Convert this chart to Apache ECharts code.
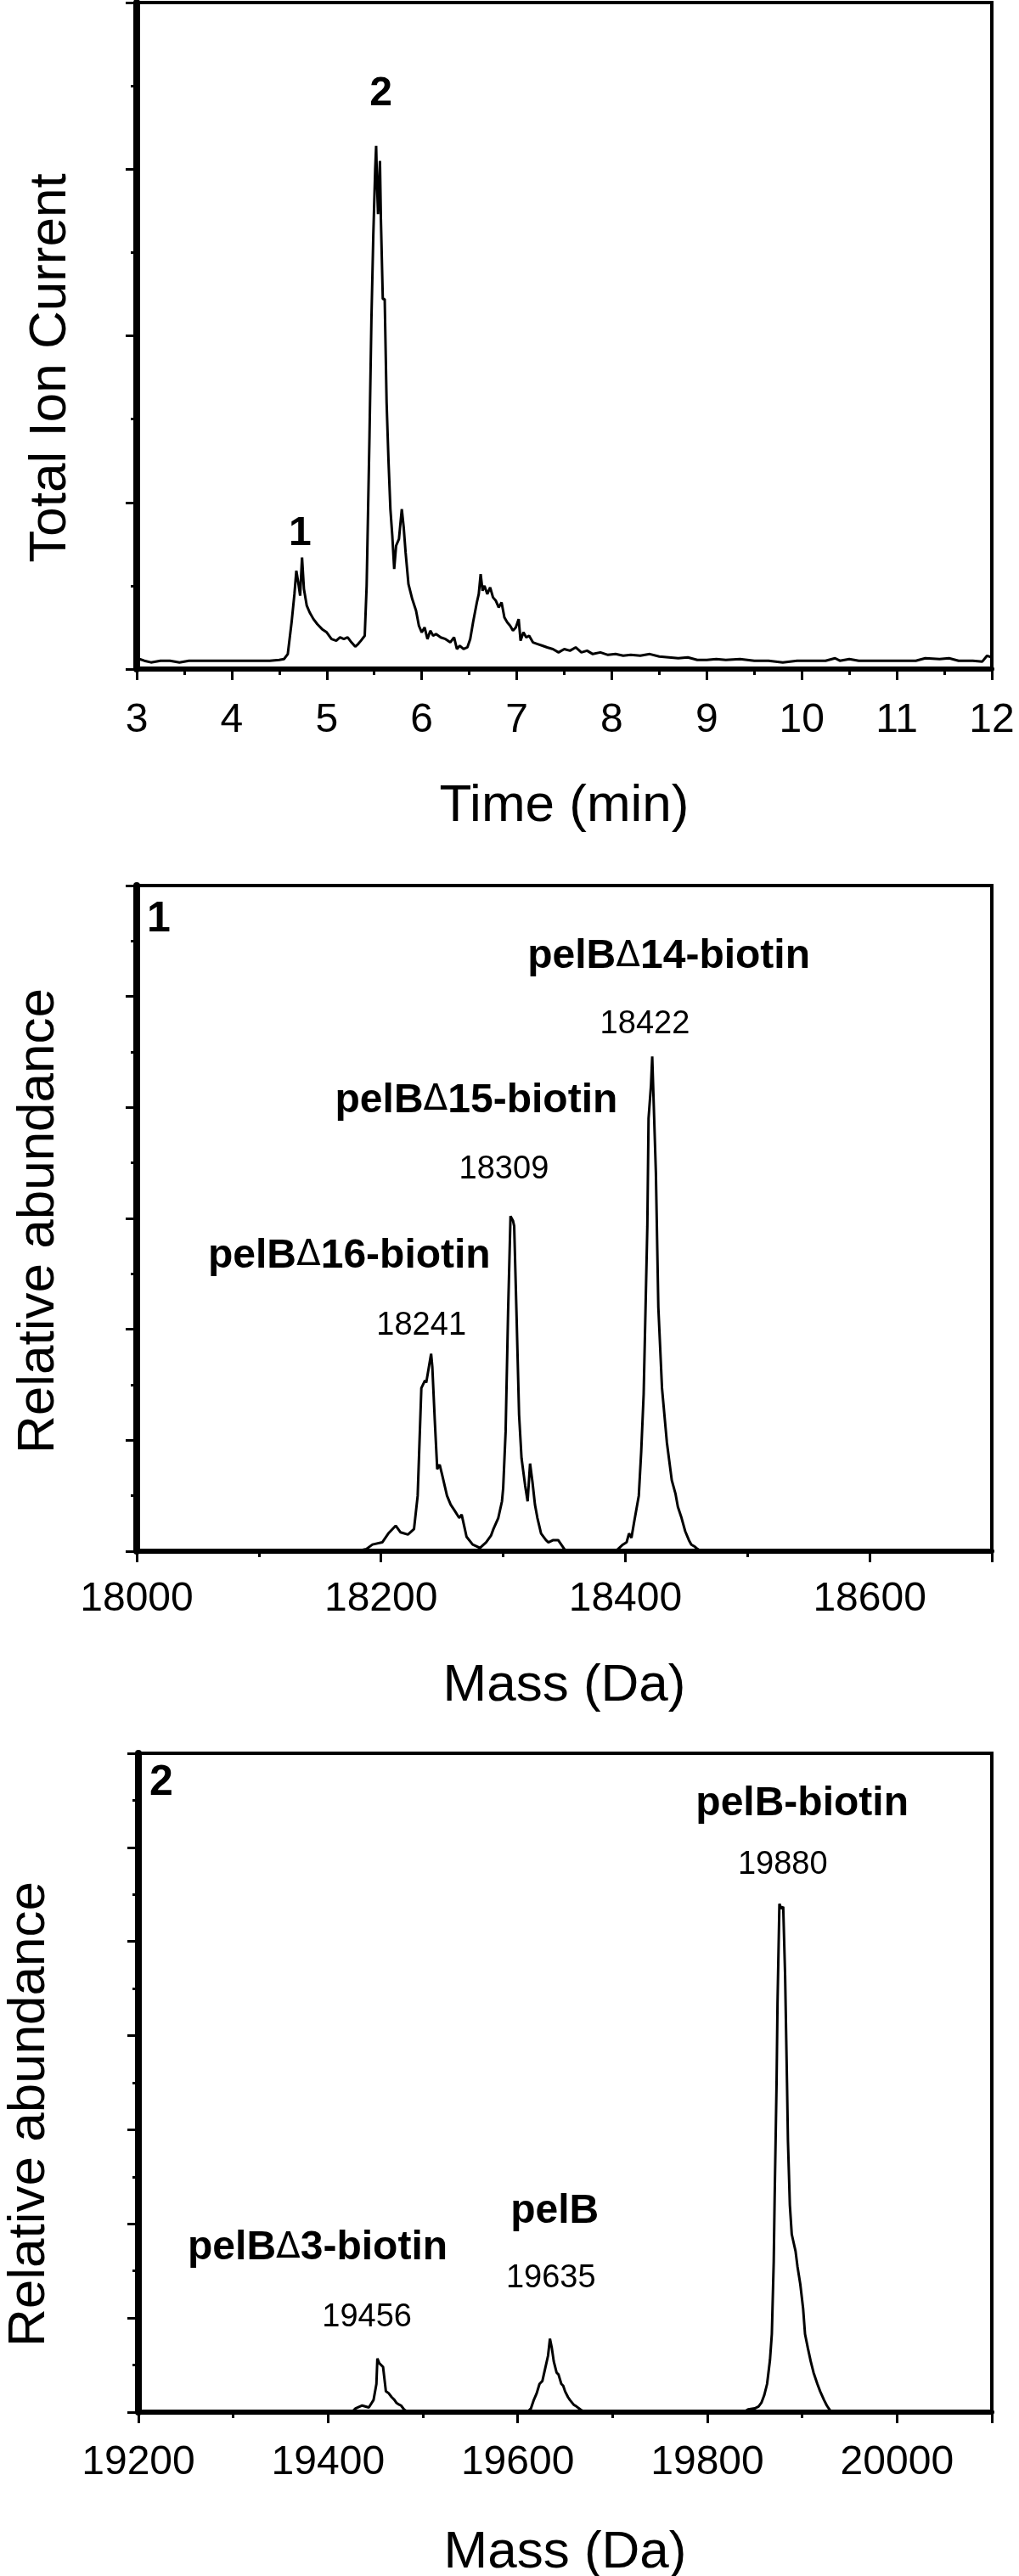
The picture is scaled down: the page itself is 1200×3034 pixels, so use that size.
<!DOCTYPE html>
<html>
<head>
<meta charset="utf-8">
<script src="https://cdn.jsdelivr.net/npm/echarts@6/dist/echarts.min.js"></script>
<style>
html,body{margin:0;padding:0;background:#fff;}
#chart{width:1200px;height:3034px;}
</style>
</head>
<body>
<div id="chart"></div>
<script>
// ---------- DATA ----------
// Panel A: total ion current chromatogram [time (min), signal]
var ticPoints = [
[3.00,0.08],[3.03,0.06],[3.08,0.05],[3.15,0.04],[3.25,0.05],[3.35,0.05],[3.45,0.04],[3.55,0.05],[3.65,0.05],[3.8,0.05],
[3.95,0.05],[4.1,0.05],[4.25,0.05],[4.4,0.05],[4.5,0.055],[4.55,0.06],[4.59,0.09],[4.63,0.28],[4.66,0.45],[4.68,0.59],
[4.70,0.52],[4.72,0.44],[4.74,0.67],[4.76,0.48],[4.79,0.38],[4.82,0.34],[4.86,0.30],[4.9,0.27],[4.95,0.24],[5.0,0.22],
[5.05,0.18],[5.1,0.17],[5.14,0.19],[5.18,0.18],[5.22,0.19],[5.26,0.16],[5.3,0.135],[5.33,0.15],[5.36,0.17],[5.4,0.20],
[5.42,0.5],[5.45,1.4],[5.47,2.09],[5.49,2.6],[5.51,3.0],[5.52,3.14],[5.53,2.9],[5.54,2.73],[5.56,3.05],[5.57,2.7],
[5.59,2.22],[5.61,2.22],[5.63,1.6],[5.65,1.25],[5.67,0.96],[5.69,0.8],[5.71,0.6],[5.73,0.74],[5.76,0.78],[5.79,0.96],
[5.81,0.85],[5.83,0.7],[5.86,0.51],[5.9,0.42],[5.94,0.35],[5.97,0.26],[6.0,0.22],[6.03,0.25],[6.06,0.18],[6.09,0.23],
[6.12,0.2],[6.15,0.21],[6.2,0.19],[6.25,0.18],[6.3,0.16],[6.34,0.19],[6.37,0.12],[6.4,0.14],[6.44,0.12],[6.48,0.13],
[6.51,0.18],[6.54,0.28],[6.58,0.40],[6.6,0.45],[6.62,0.57],[6.64,0.47],[6.66,0.5],[6.69,0.45],[6.72,0.49],[6.75,0.43],
[6.78,0.41],[6.81,0.37],[6.84,0.4],[6.87,0.31],[6.9,0.28],[6.93,0.26],[6.96,0.23],[6.99,0.25],[7.02,0.30],[7.04,0.17],
[7.07,0.22],[7.1,0.19],[7.13,0.2],[7.17,0.16],[7.22,0.15],[7.27,0.14],[7.32,0.13],[7.38,0.12],[7.44,0.10],[7.5,0.12],
[7.56,0.11],[7.62,0.13],[7.68,0.10],[7.74,0.11],[7.8,0.09],[7.88,0.10],[7.96,0.085],[8.04,0.09],[8.12,0.08],[8.2,0.085],
[8.3,0.08],[8.4,0.09],[8.5,0.075],[8.6,0.07],[8.7,0.065],[8.8,0.07],[8.9,0.055],[9.0,0.055],[9.1,0.06],[9.2,0.055],
[9.35,0.06],[9.5,0.05],[9.65,0.05],[9.8,0.04],[9.95,0.05],[10.1,0.05],[10.25,0.05],[10.35,0.065],[10.4,0.05],[10.5,0.06],
[10.6,0.05],[10.8,0.05],[11.0,0.05],[11.2,0.05],[11.3,0.065],[11.45,0.06],[11.55,0.065],[11.65,0.05],[11.8,0.05],[11.9,0.045],
[11.95,0.08],[12.0,0.07]
];
// Panel B: deconvoluted spectrum of peak 1 [mass (Da), relative abundance]
var spec1Points = [
[18180,0],[18188,0.02],[18193,0.06],[18201,0.08],[18206,0.16],[18212,0.23],[18216,0.17],[18222,0.15],[18227,0.2],[18230,0.5],
[18233,1.47],[18236,1.54],[18237,1.52],[18239,1.65],[18241,1.78],[18242,1.66],[18244,1.18],[18246,0.74],[18248,0.78],[18250,0.69],
[18254,0.5],[18257,0.42],[18260,0.37],[18264,0.3],[18266,0.33],[18268,0.23],[18270,0.13],[18275,0.06],[18281,0.03],[18286,0.08],
[18290,0.14],[18292,0.2],[18296,0.3],[18299,0.45],[18300,0.57],[18302,1.08],[18304,2.15],[18306,3.02],[18308,2.98],[18309,2.93],
[18311,2.1],[18313,1.23],[18315,0.84],[18318,0.59],[18320,0.45],[18322,0.79],[18324,0.62],[18326,0.42],[18328,0.3],[18331,0.16],
[18335,0.1],[18337,0.08],[18341,0.1],[18345,0.1],[18350,0.02],[18352,0],[18392,0],[18395,0.03],[18398,0.06],[18401,0.08],
[18403,0.16],[18405,0.12],[18407,0.25],[18411,0.5],[18413,0.9],[18415,1.42],[18418,2.93],[18419,3.9],[18421,4.2],[18422,4.46],
[18425,3.41],[18427,2.2],[18430,1.47],[18434,0.98],[18438,0.64],[18441,0.52],[18443,0.4],[18446,0.3],[18449,0.18],[18452,0.1],
[18454,0.06],[18457,0.04],[18459,0.02],[18462,0]
];
// Panel C: deconvoluted spectrum of peak 2 [mass (Da), relative abundance]
var spec2Points = [
[19425,0],[19429,0.04],[19436,0.07],[19443,0.05],[19448,0.13],[19451,0.3],[19452,0.57],[19454,0.52],[19455,0.51],[19458,0.48],
[19461,0.22],[19464,0.2],[19467,0.16],[19470,0.13],[19472,0.1],[19475,0.08],[19477,0.07],[19480,0.03],[19483,0.01],[19486,0],
[19610,0],[19614,0.04],[19617,0.13],[19620,0.2],[19623,0.3],[19626,0.33],[19628,0.42],[19632,0.6],[19634,0.78],[19636,0.68],
[19638,0.54],[19641,0.42],[19643,0.4],[19646,0.3],[19648,0.28],[19650,0.22],[19653,0.16],[19655,0.13],[19659,0.08],[19662,0.06],
[19666,0.03],[19669,0.01],[19672,0],[19838,0],[19843,0.03],[19850,0.04],[19854,0.06],[19857,0.1],[19860,0.18],[19863,0.3],
[19866,0.55],[19868,0.83],[19870,1.6],[19871,2.3],[19873,3.5],[19874,4.35],[19876,5.4],[19878,5.35],[19880,5.37],[19882,4.64],
[19884,3.5],[19885,2.88],[19887,2.2],[19889,1.89],[19891,1.8],[19893,1.71],[19895,1.55],[19898,1.36],[19901,1.1],[19903,0.83],
[19906,0.68],[19909,0.54],[19912,0.42],[19916,0.3],[19919,0.22],[19923,0.13],[19926,0.07],[19930,0.01],[19933,0]
];
// Axis ranges / tick settings
var ticAxis   = {min:3, max:12, interval:1};
var spec1Axis = {min:18000, max:18700, interval:200};
var spec2Axis = {min:19200, max:20100, interval:200};
var ticY   = {min:0, max:4, interval:1};
var spec1Y = {min:0, max:6, interval:1};
var spec2Y = {min:0, max:7, interval:1};
// Annotations (text, anchored in data coordinates, kind)
var ticNotes = [
  {text:'2', x:5.57, y:3.45, kind:'peak'},
  {text:'1', x:4.72, y:0.81, kind:'peak'}
];
var spec1Notes = [
  {text:'1', x:18018, y:5.69, kind:'panel'},
  {text:'pelB\u039414-biotin', x:18435.6, y:5.36, kind:'name'},
  {text:'18422', x:18416, y:4.75, kind:'mass'},
  {text:'pelB\u039415-biotin', x:18278, y:4.06, kind:'name'},
  {text:'18309', x:18300.6, y:3.44, kind:'mass'},
  {text:'pelB\u039416-biotin', x:18174, y:2.66, kind:'name'},
  {text:'18241', x:18233, y:2.03, kind:'mass'}
];
var spec2Notes = [
  {text:'2', x:19224, y:6.68, kind:'panel'},
  {text:'pelB-biotin', x:19900, y:6.46, kind:'name'},
  {text:'19880', x:19879.5, y:5.81, kind:'mass'},
  {text:'pelB', x:19639, y:2.13, kind:'name'},
  {text:'19635', x:19635, y:1.42, kind:'mass'},
  {text:'pelB\u03943-biotin', x:19389, y:1.74, kind:'name'},
  {text:'19456', x:19441, y:1.01, kind:'mass'}
];
var xTitles = ['Time (min)', 'Mass (Da)', 'Mass (Da)'];
var yTitles = ['Total Ion Current', 'Relative abundance', 'Relative abundance'];

// ---------- CHART ----------
var FONT = '"Liberation Sans", Arial, Helvetica, sans-serif';
var grids = [
  {left:161, top:3,    width:1007, height:785},
  {left:161, top:1043, width:1007, height:784},
  {left:163, top:2065, width:1005, height:776}
];
var xRanges = [ticAxis, spec1Axis, spec2Axis];
var yRanges = [ticY, spec1Y, spec2Y];
var labelMargins = [37, 33, 36];
var xNameGaps = [131, 128, 135];
var yNameGaps = [70, 84, 97];
var yNameShift = [76, 6, 74];

function xAxisCfg(i){
  var r = xRanges[i];
  return {
    type:'value', gridIndex:i, min:r.min, max:r.max, interval:r.interval,
    name:xTitles[i], nameLocation:'middle', nameGap:xNameGaps[i],
    nameTextStyle:{fontFamily:FONT, fontSize:62, color:'#000'},
    axisLine:{show:true, onZero:false, lineStyle:{color:'#000', width:6}},
    axisTick:{show:true, inside:false, length:13, lineStyle:{color:'#000', width:3}},
    minorTick:{show:true, splitNumber:2, length:7, lineStyle:{color:'#000', width:3}},
    axisLabel:{show:true, margin:labelMargins[i], fontFamily:FONT, fontSize:48, color:'#000',
      showMinLabel:true, showMaxLabel:(i === 0), hideOverlap:false,
      formatter:function(v){ return String(v); }},
    splitLine:{show:false}, minorSplitLine:{show:false}
  };
}
function yAxisCfg(i){
  var r = yRanges[i];
  return {
    type:'value', gridIndex:i, min:r.min, max:r.max, interval:r.interval,
    name:yTitles[i], nameLocation:'middle', nameGap:yNameGaps[i], nameRotate:90,
    nameTextStyle:{fontFamily:FONT, fontSize:62, color:'#000', padding:[0, yNameShift[i], 0, 0]},
    axisLine:{show:true, onZero:false, lineStyle:{color:'#000', width:8}},
    axisTick:{show:true, inside:false, length:13, lineStyle:{color:'#000', width:3}},
    minorTick:{show:true, splitNumber:2, length:7, lineStyle:{color:'#000', width:3}},
    axisLabel:{show:false},
    splitLine:{show:false}, minorSplitLine:{show:false}
  };
}
function lineSeries(i, pts){
  return {
    type:'line', xAxisIndex:i, yAxisIndex:i, data:pts, showSymbol:false, symbol:'none',
    lineStyle:{color:'#000', width:3}, silent:true, animation:false, z:3
  };
}
var kindStyle = {
  peak:{fontSize:48, fontWeight:'bold'},
  panel:{fontSize:50, fontWeight:'bold'},
  name:{fontSize:48, fontWeight:'bold'},
  mass:{fontSize:38, fontWeight:'normal'}
};
function noteSeries(i, notes){
  return {
    type:'scatter', xAxisIndex:i, yAxisIndex:i, symbolSize:1, silent:true, animation:false,
    itemStyle:{color:'rgba(0,0,0,0)', opacity:1}, z:5,
    data: notes.map(function(n){
      var st = kindStyle[n.kind];
      var lab = {show:true, position:'inside', align:'center', verticalAlign:'middle', opacity:1,
        fontFamily:FONT, fontSize:st.fontSize, fontWeight:st.fontWeight, color:'#000',
        textBorderWidth:0};
      if (n.kind === 'name' && n.text.indexOf('\u0394') >= 0) {
        var parts = n.text.split('\u0394');
        lab.formatter = '{b|' + parts[0] + '}{d|\u0394}{b|' + parts[1] + '}';
        lab.rich = {
          b:{fontFamily:FONT, fontSize:st.fontSize, fontWeight:'bold', color:'#000'},
          d:{fontFamily:'"DejaVu Sans", sans-serif', fontSize:st.fontSize-6, fontWeight:'normal', color:'#000'}
        };
      } else {
        lab.formatter = n.text;
      }
      return {name:n.text, value:[n.x, n.y], label:lab, itemStyle:{opacity:1}};
    })
  };
}

var chart = echarts.init(document.getElementById('chart'), null, {renderer:'canvas'});
chart.setOption({
  animation:false,
  backgroundColor:'#fff',
  grid: grids.map(function(g){
    return {left:g.left, top:g.top, width:g.width, height:g.height, show:true,
      borderColor:'#000', borderWidth:4, backgroundColor:'transparent',
      containLabel:false, outerBoundsMode:'none'};
  }),
  xAxis:[xAxisCfg(0), xAxisCfg(1), xAxisCfg(2)],
  yAxis:[yAxisCfg(0), yAxisCfg(1), yAxisCfg(2)],
  series:[
    lineSeries(0, ticPoints), lineSeries(1, spec1Points), lineSeries(2, spec2Points),
    noteSeries(0, ticNotes), noteSeries(1, spec1Notes), noteSeries(2, spec2Notes)
  ]
});
</script>
</body>
</html>
